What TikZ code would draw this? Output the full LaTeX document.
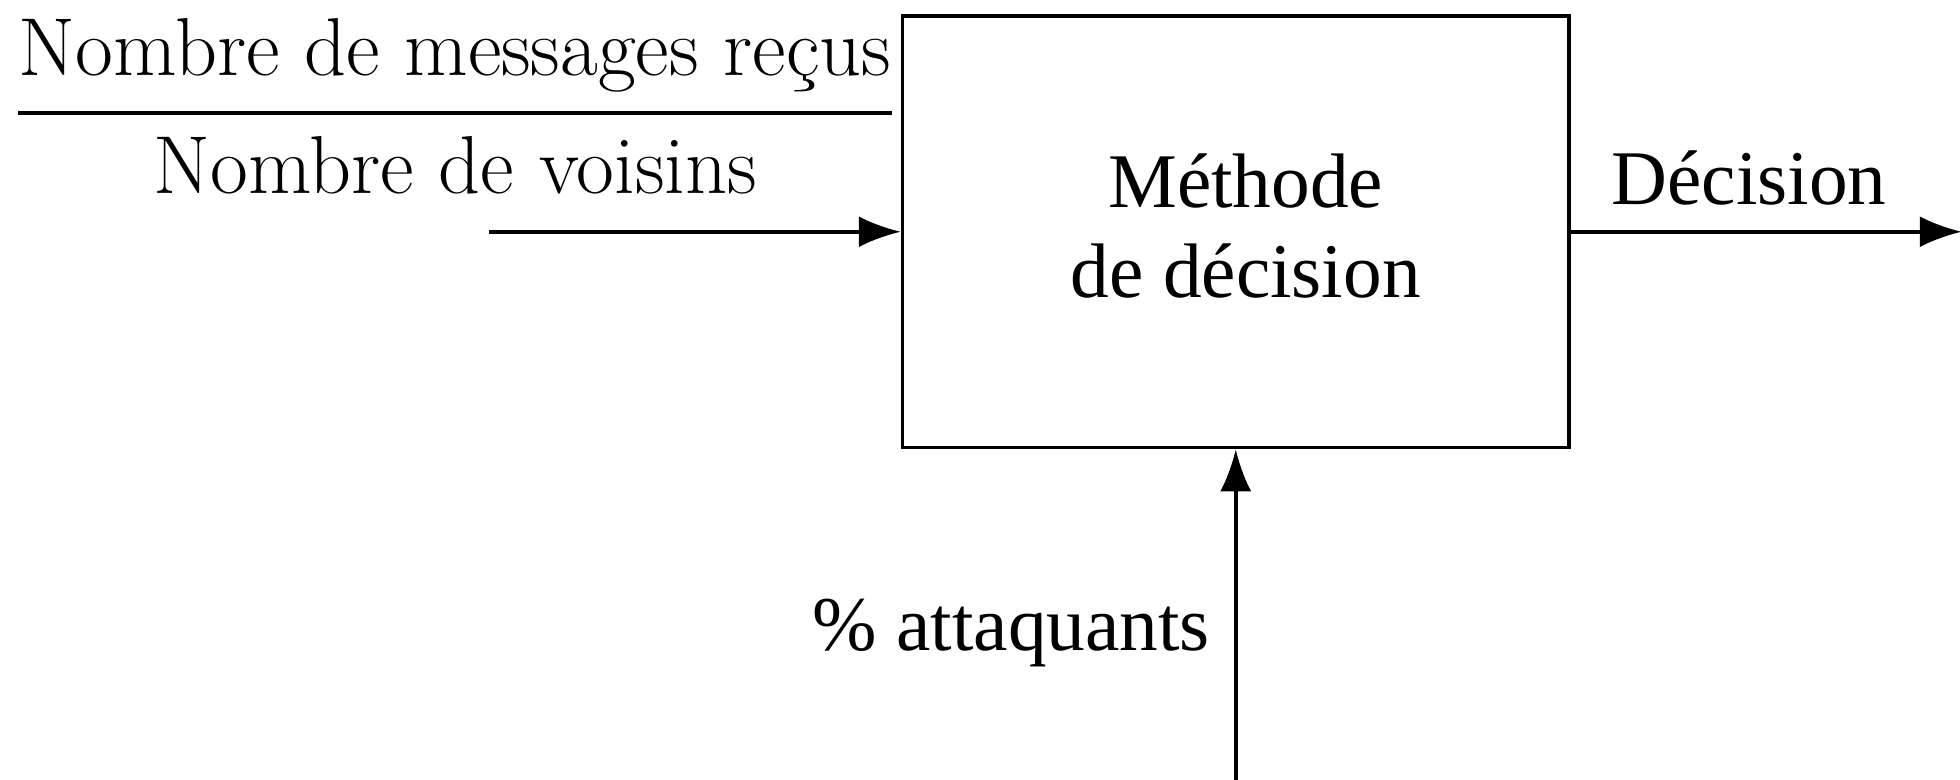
\documentclass[tikz,border=0pt]{standalone}
\usepackage{fontspec}
\newfontfamily\timesfont{Liberation Serif}
\usetikzlibrary{arrows.meta,positioning}

\tikzset{
  bloc/.style={draw, line width=1pt, minimum width=6.665cm, minimum height=4.315cm, inner sep=0pt},
  lbl/.style={inner sep=0pt, font=\timesfont\fontsize{22}{25.6}\selectfont},
  frac/.style={inner sep=0pt, font=\fontsize{23.4}{28}\selectfont},
  flow/.style={-{Latex[length=4.2mm,width=3.1mm]}, line width=1pt},
}

\begin{document}
\begin{tikzpicture}
  \useasboundingbox (0,0) rectangle (19.6,7.79);
  % decision block
  \node[bloc] (method) at (12.3575,5.4725) {};
  \node[lbl, align=center] (method text) at (12.4575,5.53) {Méthode\\de décision};
  % input: received messages over neighbours
  \node[frac, anchor=base] (num) at (4.55,7.03) {Nombre de messages reçus};
  \node[frac, anchor=base] (den) at (4.55,5.85) {Nombre de voisins};
  \coordinate (bar) at (0,6.66);
  \draw[line width=1pt] (num.west |- bar) -- (num.east |- bar);
  \coordinate[left=41.15mm of method.west] (ratio in);
  \draw[flow] (ratio in) -- (method.west);
  % output
  \coordinate[right=39.1mm of method.east] (out);
  \draw[flow] (method.east) -- (out);
  \node[lbl, anchor=base west] (decision) at (16.11,5.74) {Décision};
  % attackers share
  \coordinate[below=33.15mm of method.south] (att in);
  \draw[flow] (att in) -- (method.south);
  \node[lbl, anchor=base west] (attackers) at (8.12,1.29) {\% attaquants};
\end{tikzpicture}
\end{document}
